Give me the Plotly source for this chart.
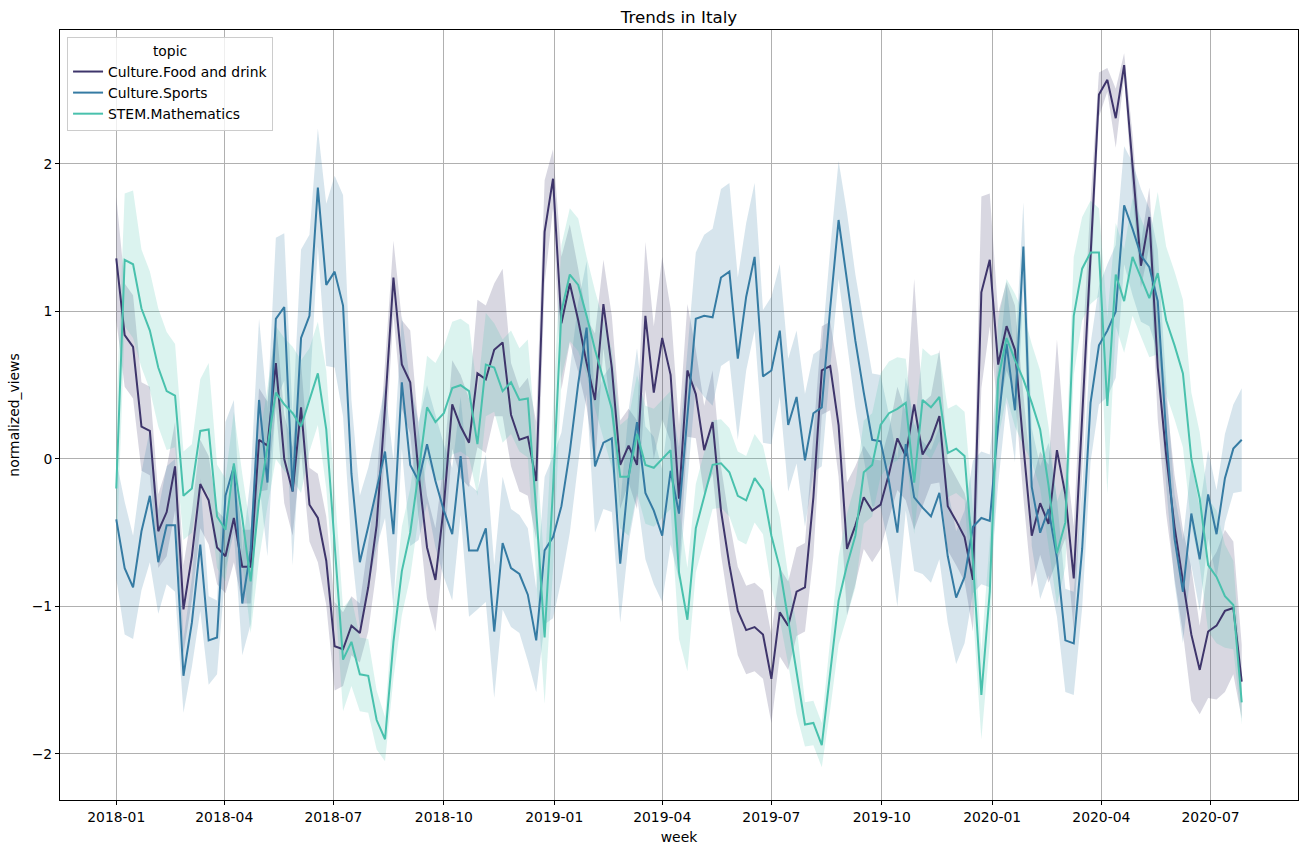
import pandas as pd
import plotly.graph_objects as go

weeks = pd.date_range("2018-01-01", periods=135, freq="7D")

topics = ["Culture.Food and drink", "Culture.Sports", "STEM.Mathematics"]
colors = ["#3e356b", "#357ba3", "#49c1ad"]
fills = ["rgba(62,53,107,0.2)", "rgba(53,123,163,0.2)", "rgba(73,193,173,0.2)"]

food = [1.36, 0.84, 0.76, 0.22, 0.19, -0.49, -0.36, -0.05, -1.02, -0.66,
        -0.17, -0.28, -0.60, -0.66, -0.40, -0.73, -0.73, 0.13, 0.09, 0.65,
        0.00, -0.22, 0.35, -0.31, -0.40, -0.69, -1.27, -1.29, -1.13, -1.18,
        -0.87, -0.45, 0.35, 1.23, 0.64, 0.52, -0.10, -0.60, -0.82, -0.32,
        0.37, 0.22, 0.11, 0.58, 0.54, 0.74, 0.79, 0.30, 0.13, 0.15,
        -0.15, 1.54, 1.90, 0.92, 1.19, 0.94, 0.65, 0.40, 1.05, 0.62,
        -0.04, 0.09, -0.04, 0.97, 0.45, 0.82, 0.57, -0.27, 0.60, 0.44,
        0.06, 0.25, -0.35, -0.72, -1.03, -1.16, -1.14, -1.19, -1.49, -1.04,
        -1.13, -0.90, -0.87, -0.26, 0.60, 0.63, 0.23, -0.61, -0.45, -0.26,
        -0.35, -0.31, -0.10, 0.14, 0.02, 0.37, 0.03, 0.13, 0.29, -0.32,
        -0.42, -0.53, -0.82, 1.13, 1.35, 0.64, 0.90, 0.74, 0.09, -0.52,
        -0.30, -0.44, 0.06, -0.24, -0.81, 0.30, 1.45, 2.47, 2.57, 2.31,
        2.67, 2.00, 1.31, 1.64, 0.62, 0.03, -0.46, -0.83, -1.19, -1.43,
        -1.17, -1.13, -1.03, -1.01, -1.51]

sports = [-0.41, -0.74, -0.87, -0.49, -0.25, -0.70, -0.45, -0.45, -1.47, -1.11,
          -0.58, -1.23, -1.21, -0.25, -0.05, -0.98, -0.62, 0.40, -0.16, 0.95,
          1.03, -0.22, 0.82, 0.97, 1.84, 1.18, 1.27, 1.04, -0.10, -0.70,
          -0.46, -0.20, 0.05, -0.51, 0.52, -0.04, -0.15, 0.10, -0.15, -0.35,
          -0.51, 0.02, -0.62, -0.62, -0.47, -1.17, -0.57, -0.74, -0.78, -0.92,
          -1.23, -0.62, -0.53, -0.32, 0.05, 0.51, 0.89, -0.05, 0.11, 0.14,
          -0.71, -0.12, 0.25, -0.23, -0.35, -0.52, -0.08, -0.37, 0.28, 0.95,
          0.97, 0.96, 1.23, 1.27, 0.68, 1.10, 1.37, 0.56, 0.60, 0.87,
          0.23, 0.42, -0.01, 0.31, 0.35, 1.02, 1.62, 1.22, 0.80, 0.45,
          0.13, 0.12, -0.15, -0.50, 0.10, -0.26, -0.33, -0.39, -0.23, -0.66,
          -0.94, -0.80, -0.46, -0.40, -0.42, 0.23, 0.78, 0.33, 1.44, -0.19,
          -0.50, -0.34, -0.67, -1.23, -1.25, -0.61, 0.38, 0.77, 0.87, 1.00,
          1.72, 1.56, 1.38, 1.30, 1.07, 0.17, -0.54, -0.90, -0.37, -0.68,
          -0.24, -0.51, -0.13, 0.07, 0.13]

maths = [-0.20, 1.35, 1.32, 1.02, 0.87, 0.62, 0.46, 0.43, -0.25, -0.20,
         0.19, 0.20, -0.39, -0.48, -0.03, -0.40, -0.83, -0.28, 0.08, 0.45,
         0.37, 0.31, 0.22, 0.40, 0.58, 0.20, -0.55, -1.36, -1.24, -1.46,
         -1.47, -1.77, -1.90, -1.24, -0.76, -0.50, -0.09, 0.35, 0.25, 0.31,
         0.48, 0.50, 0.46, 0.10, 0.64, 0.62, 0.46, 0.52, 0.40, 0.41,
         -0.35, -1.21, -0.20, 1.00, 1.25, 1.18, 0.97, 0.74, 0.54, 0.34,
         -0.12, -0.12, 0.17, -0.04, -0.06, 0.00, 0.06, -0.77, -1.09, -0.47,
         -0.26, -0.04, -0.03, -0.09, -0.25, -0.28, -0.13, -0.21, -0.52, -0.74,
         -1.09, -1.43, -1.80, -1.79, -1.94, -1.45, -0.96, -0.72, -0.52, -0.09,
         -0.04, 0.23, 0.31, 0.34, 0.38, -0.16, 0.40, 0.35, 0.42, 0.04,
         0.07, 0.02, -0.69, -1.60, -0.90, 0.54, 0.82, 0.67, 0.54, 0.38,
         0.20, -0.18, -0.64, -0.43, 0.97, 1.29, 1.40, 1.40, 0.36, 1.25,
         1.07, 1.37, 1.23, 1.09, 1.26, 0.94, 0.77, 0.58, 0.00, -0.27,
         -0.72, -0.80, -0.93, -0.99, -1.65]

# half-widths of the confidence bands
food_ci = [0.42, 0.35, 0.35, 0.30, 0.30, 0.25, 0.30, 0.30, 0.30, 0.30,
           0.30, 0.30, 0.25, 0.25, 0.30, 0.25, 0.25, 0.35, 0.30, 0.30,
           0.30, 0.30, 0.30, 0.25, 0.30, 0.30, 0.30, 0.25, 0.20, 0.20,
           0.30, 0.30, 0.30, 0.25, 0.30, 0.35, 0.30, 0.35, 0.35, 0.30,
           0.30, 0.35, 0.30, 0.50, 0.50, 0.45, 0.50, 0.35, 0.35, 0.40,
           0.40, 0.35, 0.20, 0.45, 0.40, 0.35, 0.30, 0.45, 0.30, 0.35,
           0.30, 0.25, 0.30, 0.50, 0.45, 0.55, 0.45, 0.50, 0.45, 0.30,
           0.30, 0.35, 0.30, 0.30, 0.30, 0.30, 0.30, 0.30, 0.30, 0.30,
           0.30, 0.30, 0.30, 0.40, 0.30, 0.30, 0.35, 0.45, 0.40, 0.35,
           0.35, 0.30, 0.30, 0.35, 0.30, 0.85, 0.35, 0.30, 0.45, 0.30,
           0.30, 0.30, 0.35, 0.65, 0.45, 0.35, 0.30, 0.30, 0.35, 0.35,
           0.35, 0.40, 0.75, 0.30, 0.35, 0.40, 0.30, 0.15, 0.08, 0.20,
           0.08, 0.20, 0.15, 0.20, 0.35, 0.40, 0.35, 0.35, 0.45, 0.30,
           0.45, 0.50, 0.55, 0.45, 0.25]

sports_ci = [0.40, 0.45, 0.35, 0.40, 0.45, 0.35, 0.40, 0.45, 0.25, 0.30,
             0.45, 0.30, 0.25, 0.50, 0.45, 0.35, 0.50, 0.55, 0.50, 0.55,
             0.50, 0.50, 0.60, 0.55, 0.40, 0.55, 0.65, 0.75, 0.50, 0.45,
             0.40, 0.40, 0.45, 0.50, 0.45, 0.55, 0.40, 0.40, 0.45, 0.45,
             0.45, 0.40, 0.45, 0.40, 0.50, 0.45, 0.45, 0.40, 0.40, 0.45,
             0.35, 0.50, 0.55, 0.50, 0.55, 0.55, 0.45, 0.45, 0.45, 0.50,
             0.40, 0.45, 0.50, 0.45, 0.50, 0.45, 0.50, 0.45, 0.45, 0.45,
             0.55, 0.60, 0.60, 0.60, 0.55, 0.50, 0.50, 0.45, 0.50, 0.45,
             0.45, 0.45, 0.45, 0.40, 0.40, 0.40, 0.40, 0.45, 0.45, 0.45,
             0.45, 0.45, 0.45, 0.50, 0.45, 0.50, 0.45, 0.45, 0.45, 0.45,
             0.45, 0.45, 0.45, 0.45, 0.45, 0.40, 0.40, 0.35, 0.30, 0.40,
             0.45, 0.45, 0.40, 0.35, 0.35, 0.40, 0.40, 0.40, 0.45, 0.45,
             0.40, 0.45, 0.45, 0.40, 0.35, 0.35, 0.30, 0.35, 0.35, 0.35,
             0.30, 0.30, 0.30, 0.30, 0.35]

maths_ci = [0.50, 0.45, 0.50, 0.40, 0.40, 0.40, 0.40, 0.35, 0.30, 0.30,
            0.35, 0.45, 0.35, 0.35, 0.35, 0.30, 0.35, 0.40, 0.40, 0.45,
            0.45, 0.45, 0.45, 0.35, 0.35, 0.40, 0.35, 0.35, 0.30, 0.25,
            0.25, 0.20, 0.15, 0.25, 0.30, 0.30, 0.30, 0.35, 0.40, 0.45,
            0.45, 0.45, 0.45, 0.35, 0.35, 0.30, 0.35, 0.35, 0.35, 0.40,
            0.45, 0.45, 0.55, 0.45, 0.45, 0.45, 0.40, 0.40, 0.40, 0.40,
            0.35, 0.40, 0.40, 0.40, 0.40, 0.40, 0.40, 0.45, 0.35, 0.30,
            0.30, 0.30, 0.30, 0.30, 0.30, 0.30, 0.30, 0.30, 0.35, 0.35,
            0.30, 0.30, 0.15, 0.15, 0.15, 0.25, 0.30, 0.35, 0.35, 0.35,
            0.35, 0.35, 0.35, 0.35, 0.30, 0.35, 0.35, 0.35, 0.30, 0.30,
            0.30, 0.30, 0.35, 0.30, 0.35, 0.40, 0.40, 0.45, 0.45, 0.40,
            0.40, 0.40, 0.35, 0.30, 0.40, 0.35, 0.35, 0.30, 0.60, 0.35,
            0.35, 0.40, 0.40, 0.40, 0.55, 0.50, 0.50, 0.50, 0.45, 0.45,
            0.45, 0.45, 0.35, 0.30, 0.15]

x_ticks = ["2018-01-01", "2018-04-01", "2018-07-01", "2018-10-01", "2019-01-01",
           "2019-04-01", "2019-07-01", "2019-10-01", "2020-01-01", "2020-04-01",
           "2020-07-01"]
x_tick_labels = ["2018-01", "2018-04", "2018-07", "2018-10", "2019-01", "2019-04",
                 "2019-07", "2019-10", "2020-01", "2020-04", "2020-07"]
y_ticks = [-2, -1, 0, 1, 2]

FONT = "DejaVu Sans"
FS = 13.9
fig = go.Figure()

series = [food, sports, maths]
cis = [food_ci, sports_ci, maths_ci]
xs = list(weeks)
for name, vals, ci, col, fc in zip(topics, series, cis, colors, fills):
    hi = [v + c for v, c in zip(vals, ci)]
    lo = [v - c for v, c in zip(vals, ci)]
    fig.add_trace(go.Scatter(
        x=xs + xs[::-1], y=hi + lo[::-1], fill="toself", fillcolor=fc,
        line=dict(width=0), mode="lines", showlegend=False, hoverinfo="skip"))
for name, vals, col in zip(topics, series, colors):
    fig.add_trace(go.Scatter(x=xs, y=vals, mode="lines", name=name,
                             line=dict(color=col, width=2)))

span = weeks[-1] - weeks[0]
pad = span * 0.05
xr = [weeks[0] - pad, weeks[-1] + pad]

fig.update_layout(
    width=1309, height=853,
    margin=dict(l=60, r=11, t=30, b=53),
    paper_bgcolor="white", plot_bgcolor="white",
    font=dict(family=FONT, size=FS, color="black"),
    title=dict(text="Trends in Italy", x=0.5, xref="paper", xanchor="center",
               y=1 - 17 / 853, yref="container", yanchor="middle",
               font=dict(size=16.7, family=FONT)),
    legend=dict(title=dict(text="topic", side="top center", font=dict(size=FS)),
                x=0.0057, y=0.991, xanchor="left", yanchor="top",
                bgcolor="rgba(255,255,255,0.8)", bordercolor="#cccccc", borderwidth=1,
                font=dict(size=FS), tracegroupgap=0),
    showlegend=True,
)
fig.update_xaxes(
    range=xr, tickvals=x_ticks, ticktext=x_tick_labels,
    showgrid=True, gridcolor="#b0b0b0", gridwidth=1,
    showline=True, linecolor="black", linewidth=1, mirror=True,
    ticks="outside", ticklen=4, tickcolor="black", tickfont=dict(size=FS),
    title=dict(text="week", font=dict(size=FS), standoff=8), zeroline=False,
)
fig.update_yaxes(
    range=[-2.312, 2.908], tickvals=y_ticks,
    showgrid=True, gridcolor="#b0b0b0", gridwidth=1,
    showline=True, linecolor="black", linewidth=1, mirror=True,
    ticks="outside", ticklen=4, tickcolor="black", tickfont=dict(size=FS),
    title=dict(text="normalized_views", font=dict(size=FS), standoff=8), zeroline=False,
)

fig.write_html("out.html")
